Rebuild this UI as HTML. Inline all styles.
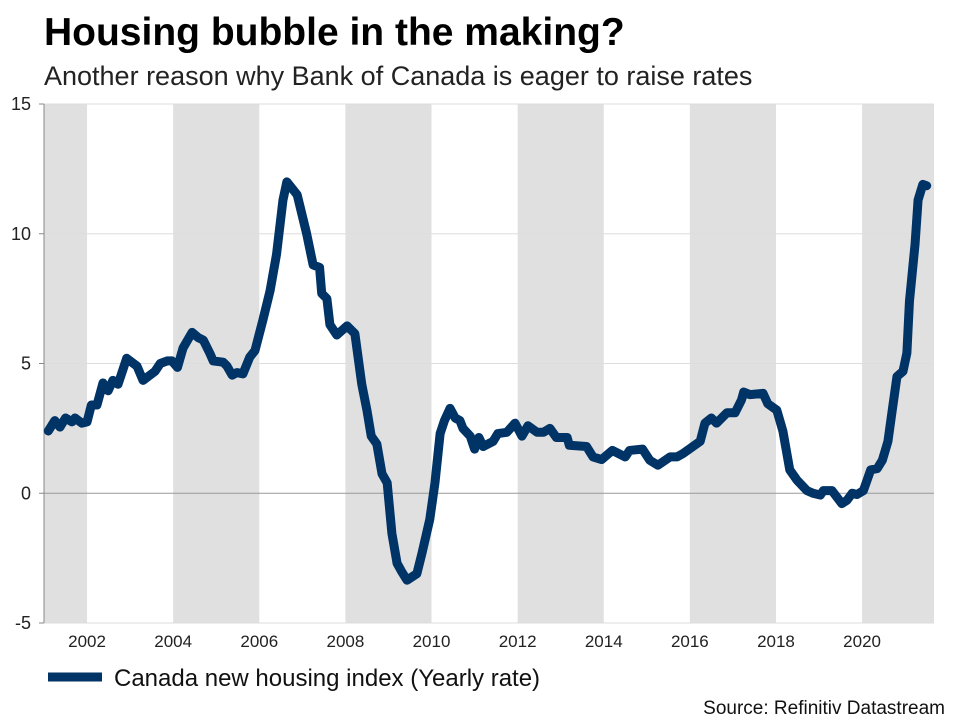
<!DOCTYPE html>
<html><head><meta charset="utf-8"><style>
body{margin:0;background:#fff;font-family:"Liberation Sans",Arial,sans-serif}
#wrap{position:relative;width:960px;height:720px;overflow:hidden}
</style></head><body>
<div id="wrap">
<svg id="svg" width="960" height="720" xmlns="http://www.w3.org/2000/svg">
<text x="44" y="45" font-size="39" font-weight="bold" fill="#000">Housing bubble in the making?</text>
<text x="44" y="85" font-size="27" fill="#222">Another reason why Bank of Canada is eager to raise rates</text>
<g id="bands"></g><g id="grid"></g><g id="xt"></g><g id="yt"></g>
<g id="series"></g>
<line x1="48" y1="677" x2="102" y2="677" stroke="#003366" stroke-width="9"/>
<text x="114" y="686" font-size="24" fill="#111">Canada new housing index (Yearly rate)</text>
<text x="945" y="714" font-size="19" fill="#111" text-anchor="end">Source: Refinitiv Datastream</text>
</svg></div>
<script>
const years=[2001.1,2001.25,2001.37,2001.5,2001.65,2001.72,2001.88,2002.0,2002.1,2002.23,2002.37,2002.49,2002.6,2002.72,2002.92,2003.16,2003.3,2003.46,2003.58,2003.7,2003.86,2003.97,2004.1,2004.23,2004.44,2004.58,2004.7,2004.85,2004.93,2005.16,2005.25,2005.37,2005.48,2005.62,2005.78,2005.9,2006.08,2006.25,2006.4,2006.55,2006.64,2006.88,2007.1,2007.25,2007.4,2007.45,2007.57,2007.64,2007.8,2008.04,2008.22,2008.38,2008.5,2008.6,2008.73,2008.85,2008.97,2009.08,2009.2,2009.3,2009.43,2009.66,2009.78,2009.96,2010.08,2010.2,2010.3,2010.43,2010.55,2010.66,2010.73,2010.9,2011.0,2011.1,2011.2,2011.43,2011.54,2011.75,2011.94,2012.1,2012.24,2012.45,2012.6,2012.75,2012.9,2013.15,2013.2,2013.6,2013.75,2013.95,2014.2,2014.5,2014.6,2014.9,2015.07,2015.26,2015.54,2015.7,2015.84,2016.24,2016.35,2016.5,2016.62,2016.86,2017.05,2017.2,2017.25,2017.4,2017.7,2017.81,2018.02,2018.16,2018.32,2018.49,2018.72,2018.86,2019.03,2019.1,2019.3,2019.53,2019.65,2019.77,2019.88,2020.03,2020.2,2020.35,2020.47,2020.6,2020.7,2020.81,2020.95,2021.04,2021.1,2021.23,2021.3,2021.41,2021.5];
const values=[2.4,2.8,2.55,2.9,2.75,2.9,2.7,2.75,3.4,3.4,4.25,3.95,4.35,4.2,5.2,4.9,4.35,4.55,4.7,5.0,5.1,5.1,4.85,5.6,6.2,6.0,5.9,5.4,5.1,5.05,4.9,4.55,4.65,4.6,5.25,5.5,6.65,7.8,9.2,11.3,12.0,11.5,10.0,8.8,8.7,7.7,7.5,6.5,6.1,6.45,6.15,4.2,3.2,2.2,1.9,0.75,0.4,-1.55,-2.7,-3.0,-3.35,-3.1,-2.3,-1.0,0.4,2.3,2.8,3.27,2.9,2.8,2.5,2.2,1.7,2.15,1.8,2.0,2.3,2.35,2.7,2.2,2.6,2.35,2.35,2.5,2.15,2.15,1.85,1.8,1.4,1.3,1.65,1.4,1.65,1.7,1.27,1.08,1.4,1.4,1.53,2.0,2.7,2.9,2.7,3.1,3.1,3.6,3.9,3.8,3.85,3.45,3.2,2.4,0.9,0.5,0.1,0.0,-0.07,0.1,0.1,-0.4,-0.27,0.0,-0.05,0.1,0.9,0.95,1.27,2.0,3.2,4.5,4.7,5.4,7.4,9.6,11.3,11.9,11.85];
const yTicks=[-5,0,5,10,15];
const xTicks=[2002,2004,2006,2008,2010,2012,2014,2016,2018,2020];
const shadedStarts=[2000,2004,2008,2012,2016,2020];
const X0=44,X1=934,Y0=623,Y1=104,YMIN=-5,YMAX=15,TMIN=2001,TMAX=2021.67;
const xs=t=>X0+(t-TMIN)/(TMAX-TMIN)*(X1-X0);
const ys=v=>Y0-(v-YMIN)/(YMAX-YMIN)*(Y0-Y1);
const NS="http://www.w3.org/2000/svg";
function mk(tag,parent,attrs){const e=document.createElementNS(NS,tag);for(const k in attrs)e.setAttribute(k,attrs[k]);document.getElementById(parent).appendChild(e);return e;}
shadedStarts.forEach(s=>{const a=Math.max(xs(s),X0),b=Math.min(xs(s+2),X1);
const r=mk('rect','bands',{x:a,y:Y1,width:b-a,height:Y0-Y1,fill:'#e0e0e0'});

});
yTicks.forEach(v=>{const l=mk('line','grid',{x1:X0,x2:X1,y1:ys(v),y2:ys(v),stroke:v===0?'#999':'#ddd','stroke-width':1});


const tk=mk('line','yt',{x1:X0-5,x2:X0,y1:ys(v),y2:ys(v),stroke:'#888'});


const t=mk('text','yt',{x:31,y:ys(v)+6,'font-size':18,'text-anchor':'end',fill:'#222'});t.textContent=v;

});
const ax=mk('line','grid',{x1:X0,x2:X0,y1:Y1,y2:Y0,stroke:'#888'});


xTicks.forEach(v=>{const t=mk('text','xt',{x:xs(v),y:647,'font-size':17,'text-anchor':'middle',fill:'#222'});t.textContent=v;

});
const p=mk('polyline','series',{points:years.map((t,i)=>xs(t)+','+ys(values[i])).join(' '),fill:'none',stroke:'#003366','stroke-width':9,'stroke-linejoin':'round','stroke-linecap':'round'});


</script>
</body></html>
